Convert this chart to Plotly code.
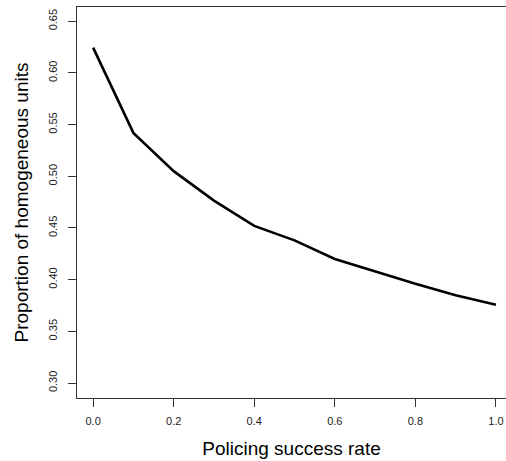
import plotly.graph_objects as go

# Policing success rate vs. proportion of homogeneous units
success_rate = [0.0, 0.1, 0.2, 0.3, 0.4, 0.5, 0.6, 0.7, 0.8, 0.9, 1.0]
homogeneous = [0.6245, 0.542, 0.505, 0.4765, 0.452, 0.438, 0.420, 0.408, 0.396, 0.385, 0.3758]

x_ticks = [0.0, 0.2, 0.4, 0.6, 0.8, 1.0]
x_tick_labels = ["0.0", "0.2", "0.4", "0.6", "0.8", "1.0"]
y_ticks = [0.30, 0.35, 0.40, 0.45, 0.50, 0.55, 0.60, 0.65]
y_tick_labels = ["0.30", "0.35", "0.40", "0.45", "0.50", "0.55", "0.60", "0.65"]

FONT = "Liberation Sans, Arial, sans-serif"

fig = go.Figure(
    go.Scatter(
        x=success_rate,
        y=homogeneous,
        mode="lines",
        line=dict(color="black", width=2.6),
        hoverinfo="skip",
    )
)

fig.update_layout(
    width=506,
    height=461,
    margin=dict(l=77, r=0, t=7, b=63),
    paper_bgcolor="white",
    plot_bgcolor="white",
    showlegend=False,
    font=dict(family=FONT, color="black"),
)

fig.update_xaxes(
    range=[-0.04, 1.025],
    tickvals=x_ticks,
    ticktext=x_tick_labels,
    tickfont=dict(size=11, color="#222"),
    ticks="outside",
    ticklen=8,
    tickcolor="#333",
    ticklabelstandoff=5,
    showgrid=False,
    zeroline=False,
    showline=True,
    linecolor="#333",
    linewidth=1,
    mirror=True,
    title=dict(text="Policing success rate", font=dict(size=19), standoff=15),
)

fig.update_yaxes(
    range=[0.2855, 0.6638],
    tickvals=y_ticks,
    ticktext=y_tick_labels,
    tickangle=-90,
    tickfont=dict(size=11, color="#222"),
    ticks="outside",
    ticklen=8,
    tickcolor="#333",
    ticklabelstandoff=7,
    showgrid=False,
    zeroline=False,
    showline=True,
    linecolor="#333",
    linewidth=1,
    mirror=False,
    title=dict(text="Proportion of homogeneous units", font=dict(size=19), standoff=12),
)

fig.write_html("out.html")
